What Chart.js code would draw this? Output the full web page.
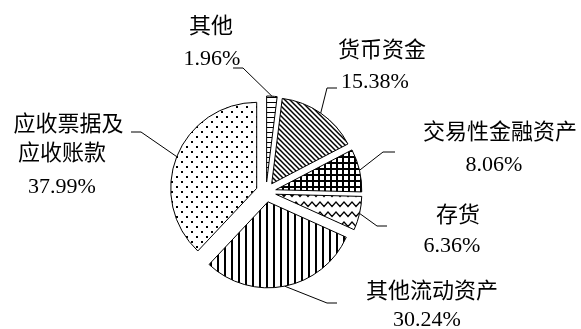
<!DOCTYPE html>
<html>
<head>
<meta charset="utf-8">
<script src="https://cdn.jsdelivr.net/npm/chart.js@4/dist/chart.umd.min.js"></script>
<style>
html,body{margin:0;padding:0;background:#fff;}
#wrap{width:581px;height:329px;position:relative;}
</style>
</head>
<body>
<div id="wrap"><canvas id="c" width="581" height="329"></canvas></div>
<script>
// ---- data ----
const categories = ['其他', '货币资金', '交易性金融资产', '存货', '其他流动资产', '应收票据及应收账款'];
const labelLines = [['其他'], ['货币资金'], ['交易性金融资产'], ['存货'], ['其他流动资产'], ['应收票据及', '应收账款']];
const shares = [1.96, 15.38, 8.06, 6.36, 30.24, 37.99];

// ---- layout (relative to pie centre) ----
const EXPLODE = 10;
const leaderLayout = [
  {elbow: [-23, -124], end: [-33, -124], text: [[-55, -164.5], [-54, -132.5]]},
  {elbow: [61, -104], end: [71, -104], text: [[116, -141], [109, -109.5]]},
  {elbow: [117, -40], end: [129, -40], text: [[234, -59], [228, -27]]},
  {elbow: [111, 34], end: [121, 34], text: [[192, 24], [186, 54]]},
  {elbow: [61, 111], end: [71, 111], text: [[166, 100], [161, 128]]},
  {elbow: [-125, -60], end: [-135, -60], text: [[-197.5, -67], [-204, -38], [-204, -4.5]]}
];

const canvas = document.getElementById('c');
const mainCtx = canvas.getContext('2d');

function makePattern(w, h, draw) {
  const t = document.createElement('canvas');
  t.width = w; t.height = h;
  const g = t.getContext('2d');
  g.fillStyle = '#fff';
  g.fillRect(0, 0, w, h);
  g.fillStyle = '#000';
  g.strokeStyle = '#000';
  draw(g, w, h);
  return mainCtx.createPattern(t, 'repeat');
}

const patterns = [
  // horizontal lines
  makePattern(5, 5, (g) => { g.fillRect(0, 2, 5, 1); }),
  // diagonal "\" lines
  makePattern(5, 5, (g) => {
    g.lineWidth = 1.5;
    for (let k = -1; k <= 1; k++) {
      g.beginPath(); g.moveTo(k * 5 - 1, -1); g.lineTo(k * 5 + 6, 6); g.stroke();
    }
  }),
  // grid
  makePattern(6, 6, (g) => { g.fillRect(0, 0, 6, 2); g.fillRect(0, 0, 2, 6); }),
  // zigzag
  makePattern(8, 10, (g) => {
    g.lineWidth = 1.3;
    g.beginPath(); g.moveTo(-4, 6.5); g.lineTo(0, 2); g.lineTo(4, 6.5); g.lineTo(8, 2); g.lineTo(12, 6.5); g.stroke();
  }),
  // vertical lines
  makePattern(7, 7, (g) => { g.fillRect(0, 0, 2, 7); }),
  // staggered dots
  makePattern(10, 10, (g) => { g.fillRect(1, 1, 2, 2); g.fillRect(6, 6, 2, 2); })
];

const FONT = '22px "Liberation Serif", "Noto Sans CJK SC"';

const explodePlugin = {
  id: 'explode',
  afterDatasetsUpdate(chart) {
    const meta = chart.getDatasetMeta(0);
    meta.data.forEach((arc) => {
      const mid = (arc.startAngle + arc.endAngle) / 2;
      arc.x += Math.cos(mid) * EXPLODE;
      arc.y += Math.sin(mid) * EXPLODE;
    });
  }
};

const labelPlugin = {
  id: 'outLabels',
  afterDatasetsDraw(chart) {
    const ctx = chart.ctx;
    const ca = chart.chartArea;
    const cx = (ca.left + ca.right) / 2;
    const cy = (ca.top + ca.bottom) / 2;
    const meta = chart.getDatasetMeta(0);
    ctx.save();
    ctx.strokeStyle = '#000';
    ctx.lineWidth = 1;
    ctx.fillStyle = '#000';
    ctx.font = FONT;
    ctx.textAlign = 'center';
    ctx.textBaseline = 'middle';
    meta.data.forEach((arc, i) => {
      const L = leaderLayout[i];
      const mid = (arc.startAngle + arc.endAngle) / 2;
      const sx = arc.x + Math.cos(mid) * arc.outerRadius;
      const sy = arc.y + Math.sin(mid) * arc.outerRadius;
      ctx.beginPath();
      ctx.moveTo(sx, sy);
      ctx.lineTo(cx + L.elbow[0], cy + L.elbow[1]);
      ctx.lineTo(cx + L.end[0], cy + L.end[1]);
      ctx.stroke();
      const lines = labelLines[i].concat([shares[i].toFixed(2) + '%']);
      lines.forEach((txt, j) => {
        ctx.fillText(txt, cx + L.text[j][0], cy + L.text[j][1]);
      });
    });
    ctx.restore();
  }
};

new Chart(canvas, {
  type: 'pie',
  data: {
    labels: categories,
    datasets: [{
      data: shares,
      backgroundColor: patterns,
      borderColor: '#000',
      borderWidth: 1,
      radius: 86
    }]
  },
  options: {
    responsive: false,
    devicePixelRatio: 1,
    animation: false,
    radius: 86,
    layout: {padding: {left: 0, right: 49, top: 55, bottom: 0}},
    plugins: {
      legend: {display: false},
      tooltip: {enabled: false}
    }
  },
  plugins: [explodePlugin, labelPlugin]
});
</script>
</body>
</html>
